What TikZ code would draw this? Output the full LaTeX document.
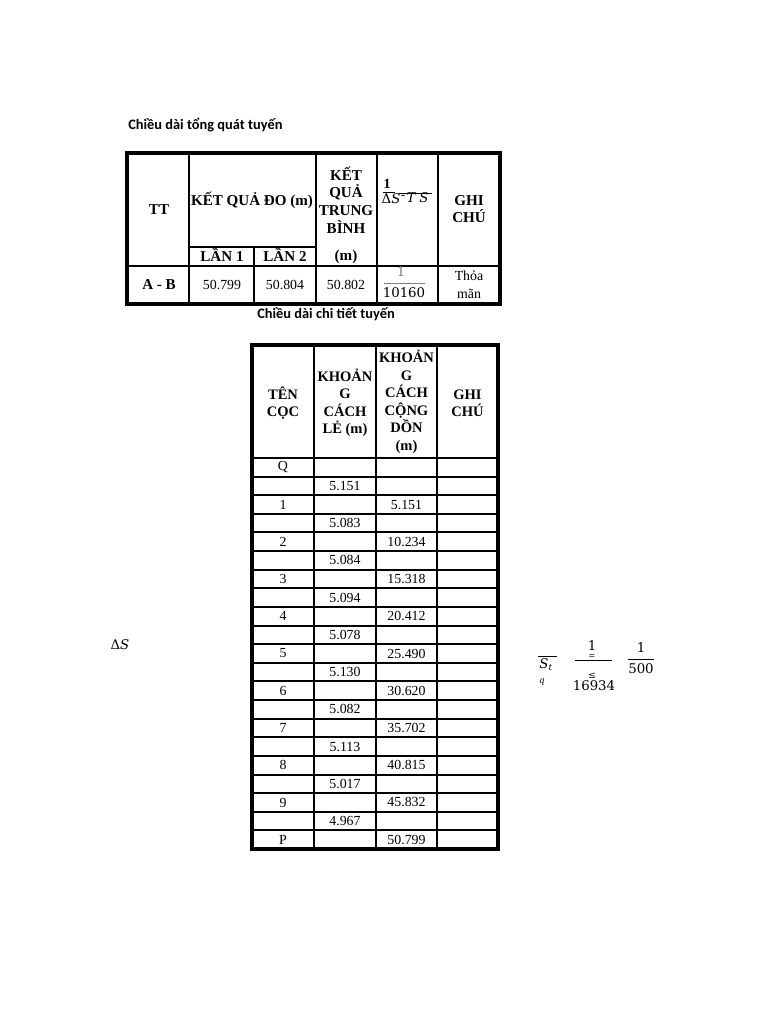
\documentclass[tikz,border=0pt]{standalone}
\usepackage{fontspec}
\setmainfont{Liberation Serif}
\newfontfamily\calfont{Carlito}
\newfontfamily\mthfont{DejaVu Serif}
\definecolor{fracgray}{HTML}{8A7A72}
\tikzset{
  outer/.style={line width=2.3pt},
  grid/.style={line width=1.5pt},
  hd/.style={font=\fontsize{11.3}{13.3}\selectfont\bfseries, align=center, inner sep=0pt},
  hdb/.style={font=\fontsize{10.9}{13.1}\selectfont\bfseries, align=center, inner sep=0pt},
  cell/.style={font=\fontsize{10.4}{13.5}\selectfont, align=center, inner sep=0pt},
  ttl/.style={font=\calfont\fontsize{10.8}{12}\selectfont\bfseries, inner sep=0pt},
  mt/.style={font=\mthfont\fontsize{10}{12}\selectfont, inner sep=0pt},
  mti/.style={font=\mthfont\itshape\fontsize{10}{12}\selectfont, inner sep=0pt},
  mts/.style={font=\mthfont\itshape\fontsize{6.5}{8}\selectfont, inner sep=0pt}
}
\begin{document}
\begin{tikzpicture}[x=0.75pt,y=-0.75pt]
\useasboundingbox[fill=white] (0,0) rectangle (768,1024);

% ---------- titles ----------
\node[ttl, anchor=west] (t1) at (128,125) {Chiều dài tổng quát tuyến};
\node[ttl] (t2) at (326,314) {Chiều dài chi tiết tuyến};

% ---------- top table ----------
\draw[grid] (189,153) -- (189,304);
\draw[grid] (254,247) -- (254,304);
\draw[grid] (316,153) -- (316,304);
\draw[grid] (377,153) -- (377,304);
\draw[grid] (438,153) -- (438,304);
\draw[grid] (189,247) -- (316,247);
\draw[grid] (127,266) -- (500,266);
\draw[outer] (127,153) rectangle (500,304);

\node[hd] (tt) at (159,210) {TT};
\node[hd] (kqdo) at (252,200) {KẾT QUẢ ĐO (m)};
\node[hd] (kqtb) at (346,200) {KẾT\\QUẢ\\TRUNG\\BÌNH};
\node[hd] (kqm) at (346,257) {(m)};
\node[hd] (lan1) at (222,255) {LẦN 1};
\node[hd] (lan2) at (285,255) {LẦN 2};
\node[hd] (ghi1) at (469,209) {GHI\\CHÚ};

% header formula
\node[font=\fontsize{10.5}{12}\selectfont\bfseries, inner sep=0pt] (f1) at (387,184) {1};
\draw[line width=0.6pt] (383,192.5) -- (395,192.5);
\node[mt] (fds) at (391,199) {Δ\textit{S}};
\draw[line width=0.6pt] (399,193) -- (432,193);
\node[mt] (fdash) at (403,197) {-};
\node[mti] (fT) at (411,198) {T};
\node[mti] (fS) at (424,198) {S};

% data row
\node[hd] (ab) at (159,285) {A - B};
\node[cell] (v1) at (222,285) {50.799};
\node[cell] (v2) at (285,285) {50.804};
\node[cell] (v3) at (346,285) {50.802};
\node[mt, text=fracgray] (r1) at (401,272) {1};
\draw[fracgray, line width=0.6pt] (384,283.5) -- (425,283.5);
\node[mt] (r2) at (404,293) {10160};
\node[cell] (ok) at (469,285) {Thỏa\\mãn};

% ---------- second table ----------
\foreach \k in {0,...,20} {
  \draw[grid] (252,{458+\k*18.62}) -- (498,{458+\k*18.62});
}
\draw[grid] (314,345) -- (314,849);
\draw[grid] (376,345) -- (376,849);
\draw[grid] (437,345) -- (437,849);
\draw[outer] (252,345) rectangle (498,849);

\node[hdb] (h1) at (283,403) {TÊN\\CỌC};
\node[hdb] (h2) at (345,403) {KHOẢN\\G\\CÁCH\\LẺ (m)};
\node[hdb] (h3) at (406.5,402) {KHOẢN\\G\\CÁCH\\CỘNG\\DỒN\\(m)};
\node[hdb] (h4) at (467.5,403) {GHI\\CHÚ};

\foreach \k/\a/\b/\c in {0/Q//, 1//5.151/, 2/1//5.151, 3//5.083/, 4/2//10.234,
  5//5.084/, 6/3//15.318, 7//5.094/, 8/4//20.412, 9//5.078/, 10/5//25.490,
  11//5.130/, 12/6//30.620, 13//5.082/, 14/7//35.702, 15//5.113/, 16/8//40.815,
  17//5.017/, 18/9//45.832, 19//4.967/, 20/P//50.799} {
  \node[cell] (c1-\k) at (283,{458+(\k+0.5)*18.62}) {\a};
  \node[cell] (c2-\k) at (345,{458+(\k+0.5)*18.62}) {\b};
  \node[cell] (c3-\k) at (406.5,{458+(\k+0.5)*18.62}) {\c};
}

% ---------- stray formulas ----------
\node[mt] (ds) at (120,645) {Δ\textit{S}};

\draw[line width=0.6pt] (538,656) -- (557,656);
\node[mti] (st) at (546,665) {S\textsubscript{\fontsize{6.5}{8}\selectfont t}};
\node[mts] (sq) at (542,682) {q};

\node[mt] (fa1) at (592,646) {1};
\draw[line width=0.6pt] (575,660) -- (612,660);
\node[mt, font=\mthfont\fontsize{6}{7}\selectfont] (feq) at (592,657) {=};
\node[mt, font=\mthfont\fontsize{7}{8}\selectfont] (fle) at (592,676) {≤};
\node[mt] (fb1) at (594,686) {16934};

\node[mt] (fa2) at (641,648) {1};
\draw[line width=0.6pt] (628,659) -- (654,659);
\node[mt] (fb2) at (641,669) {500};
\end{tikzpicture}
\end{document}
